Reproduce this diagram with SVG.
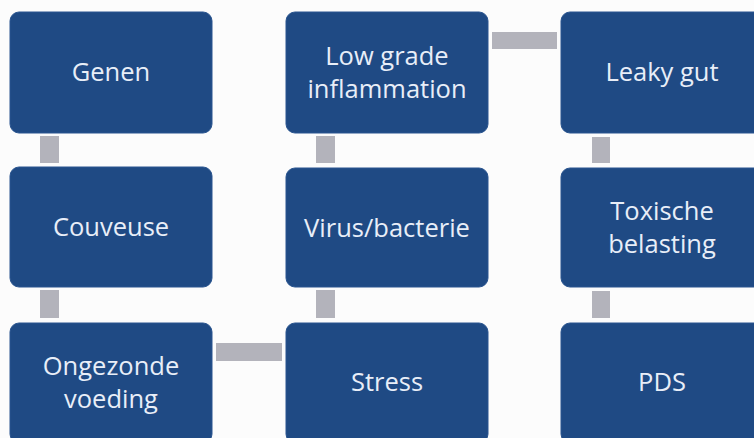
<svg xmlns="http://www.w3.org/2000/svg" width="754" height="438" viewBox="0 0 754 438">
<style>
.box{fill:#1f4a84;stroke:#2a5590;stroke-width:1}
.lbl{fill:#e8eef8;font-family:"Open Sans","DejaVu Sans",sans-serif;font-size:25.5px;font-weight:500;text-anchor:middle}
.con{fill:#b3b3bb}
</style>
<rect x="0" y="0" width="754" height="438" fill="#fcfcfc"/>
<g id="connectors">
<rect class="con" x="40" y="136" width="19" height="27"/>
<rect class="con" x="40" y="290" width="19" height="28"/>
<rect class="con" x="216" y="343" width="66" height="18"/>
<rect class="con" x="316" y="290" width="19" height="28"/>
<rect class="con" x="316" y="136" width="19" height="27"/>
<rect class="con" x="492" y="32" width="65" height="17"/>
<rect class="con" x="592" y="137" width="18" height="26"/>
<rect class="con" x="592" y="291" width="18" height="27"/>
</g>
<g id="genen"><rect class="box" x="10" y="12" width="202" height="121" rx="9"/><text class="lbl" x="111" y="81">Genen</text></g>
<g id="couveuse"><rect class="box" x="10" y="167" width="202" height="120" rx="9"/><text class="lbl" x="111" y="236">Couveuse</text></g>
<g id="ongezonde"><rect class="box" x="10" y="323" width="202" height="120" rx="9"/><text class="lbl" x="111" y="375">Ongezonde</text><text class="lbl" x="111" y="408">voeding</text></g>
<g id="lowgrade"><rect class="box" x="286" y="12" width="202" height="121" rx="9"/><text class="lbl" x="387" y="65">Low grade</text><text class="lbl" x="387" y="98">inflammation</text></g>
<g id="virus"><rect class="box" x="286" y="168" width="202" height="119" rx="9"/><text class="lbl" x="387" y="237">Virus/bacterie</text></g>
<g id="stress"><rect class="box" x="286" y="323" width="202" height="120" rx="9"/><text class="lbl" x="387" y="391">Stress</text></g>
<g id="leaky"><rect class="box" x="561" y="12" width="202" height="121" rx="9"/><text class="lbl" x="662" y="81">Leaky gut</text></g>
<g id="toxische"><rect class="box" x="561" y="168" width="202" height="119" rx="9"/><text class="lbl" x="662" y="220">Toxische</text><text class="lbl" x="662" y="253">belasting</text></g>
<g id="pds"><rect class="box" x="561" y="323" width="202" height="120" rx="9"/><text class="lbl" x="662" y="391">PDS</text></g>
</svg>
